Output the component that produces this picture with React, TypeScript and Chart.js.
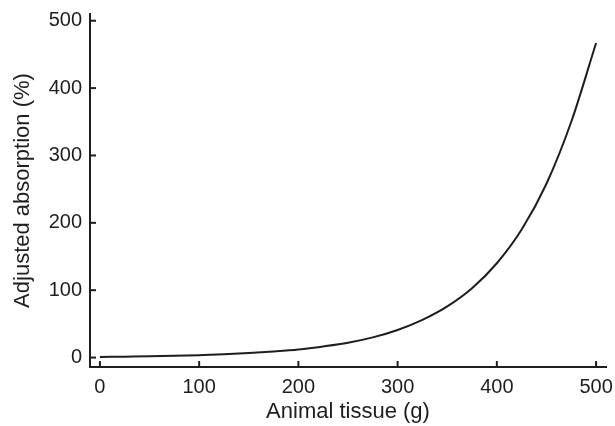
import React, { useEffect, useRef } from "react";
import { Chart, registerables } from "chart.js";

Chart.register(...registerables);

// Data
const tissueGrams = [0, 25, 50, 75, 100, 125, 150, 175, 200, 225, 250, 275, 300, 325, 350, 375, 400, 425, 450, 475, 500];
const absorptionPct = [1, 1.4, 1.8, 2.6, 3.6, 4.8, 6.6, 9, 12, 16.5, 22, 30, 41, 56, 76, 103, 140, 190, 258, 350, 467];
const xTickValues = [0, 100, 200, 300, 400, 500];
const yTickValues = [0, 100, 200, 300, 400, 500];
const xTitle = "Animal tissue (g)";
const yTitle = "Adjusted absorption (%)";

const INK = "#1e1e1e";
const FONT = "'Liberation Sans', Arial, Helvetica, sans-serif";

const inwardTicks = {
  id: "inwardTicks",
  afterDraw(chart: any) {
    const ctx = chart.ctx;
    const { left, bottom } = chart.chartArea;
    const xs = chart.scales.x;
    const ys = chart.scales.y;
    ctx.save();
    ctx.strokeStyle = INK;
    ctx.lineWidth = 2;
    xs.ticks.forEach((t: any) => {
      const p = xs.getPixelForValue(t.value);
      ctx.beginPath();
      ctx.moveTo(p, bottom);
      ctx.lineTo(p, bottom - 6);
      ctx.stroke();
    });
    ys.ticks.forEach((t: any) => {
      const p = ys.getPixelForValue(t.value);
      ctx.beginPath();
      ctx.moveTo(left, p);
      ctx.lineTo(left + 6, p);
      ctx.stroke();
    });
    ctx.restore();
  },
};

export default function App() {
  const ref = useRef<HTMLCanvasElement | null>(null);

  useEffect(() => {
    if (!ref.current) return;
    const chart = new Chart(ref.current, {
      type: "line",
      data: {
        datasets: [
          {
            data: tissueGrams.map((x, i) => ({ x, y: absorptionPct[i] })),
            borderColor: INK,
            borderWidth: 2,
            pointRadius: 0,
            fill: false,
            cubicInterpolationMode: "monotone",
          },
        ],
      },
      options: {
        animation: false,
        responsive: true,
        maintainAspectRatio: false,
        layout: { padding: { top: 14, right: 9, left: 0, bottom: 0 } },
        plugins: { legend: { display: false }, tooltip: { enabled: false } },
        scales: {
          x: {
            type: "linear",
            min: -10,
            max: 510,
            afterBuildTicks: (s: any) => {
              s.ticks = xTickValues.map((v) => ({ value: v }));
            },
            afterFit: (s: any) => {
              s.height = 59;
              s.paddingLeft = 0;
              s.paddingRight = 0;
            },
            grid: { drawOnChartArea: false, drawTicks: false },
            border: { display: true, width: 2, color: INK },
            ticks: {
              color: INK,
              font: { family: FONT, size: 20 },
              padding: 8,
              maxRotation: 0,
              autoSkip: false,
            },
            title: {
              display: true,
              text: xTitle,
              color: INK,
              font: { family: FONT, size: 22 },
              padding: { top: 1, bottom: 1 },
            },
          },
          y: {
            type: "linear",
            min: -14,
            max: 510,
            afterBuildTicks: (s: any) => {
              s.ticks = yTickValues.map((v) => ({ value: v }));
            },
            afterFit: (s: any) => {
              s.width = 90;
              s.paddingTop = 0;
              s.paddingBottom = 0;
            },
            grid: { drawOnChartArea: false, drawTicks: false },
            border: { display: true, width: 2, color: INK },
            ticks: {
              color: INK,
              font: { family: FONT, size: 20 },
              padding: 8,
              autoSkip: false,
            },
            title: {
              display: true,
              text: yTitle,
              color: INK,
              font: { family: FONT, size: 22 },
              padding: { top: 10, bottom: 10 },
            },
          },
        },
      },
      plugins: [inwardTicks],
    } as any);
    return () => chart.destroy();
  }, []);

  return (
    <div style={{ position: "absolute", left: 0, top: 0, width: 615, height: 426, background: "#fff" }}>
      <canvas ref={ref} />
    </div>
  );
}
